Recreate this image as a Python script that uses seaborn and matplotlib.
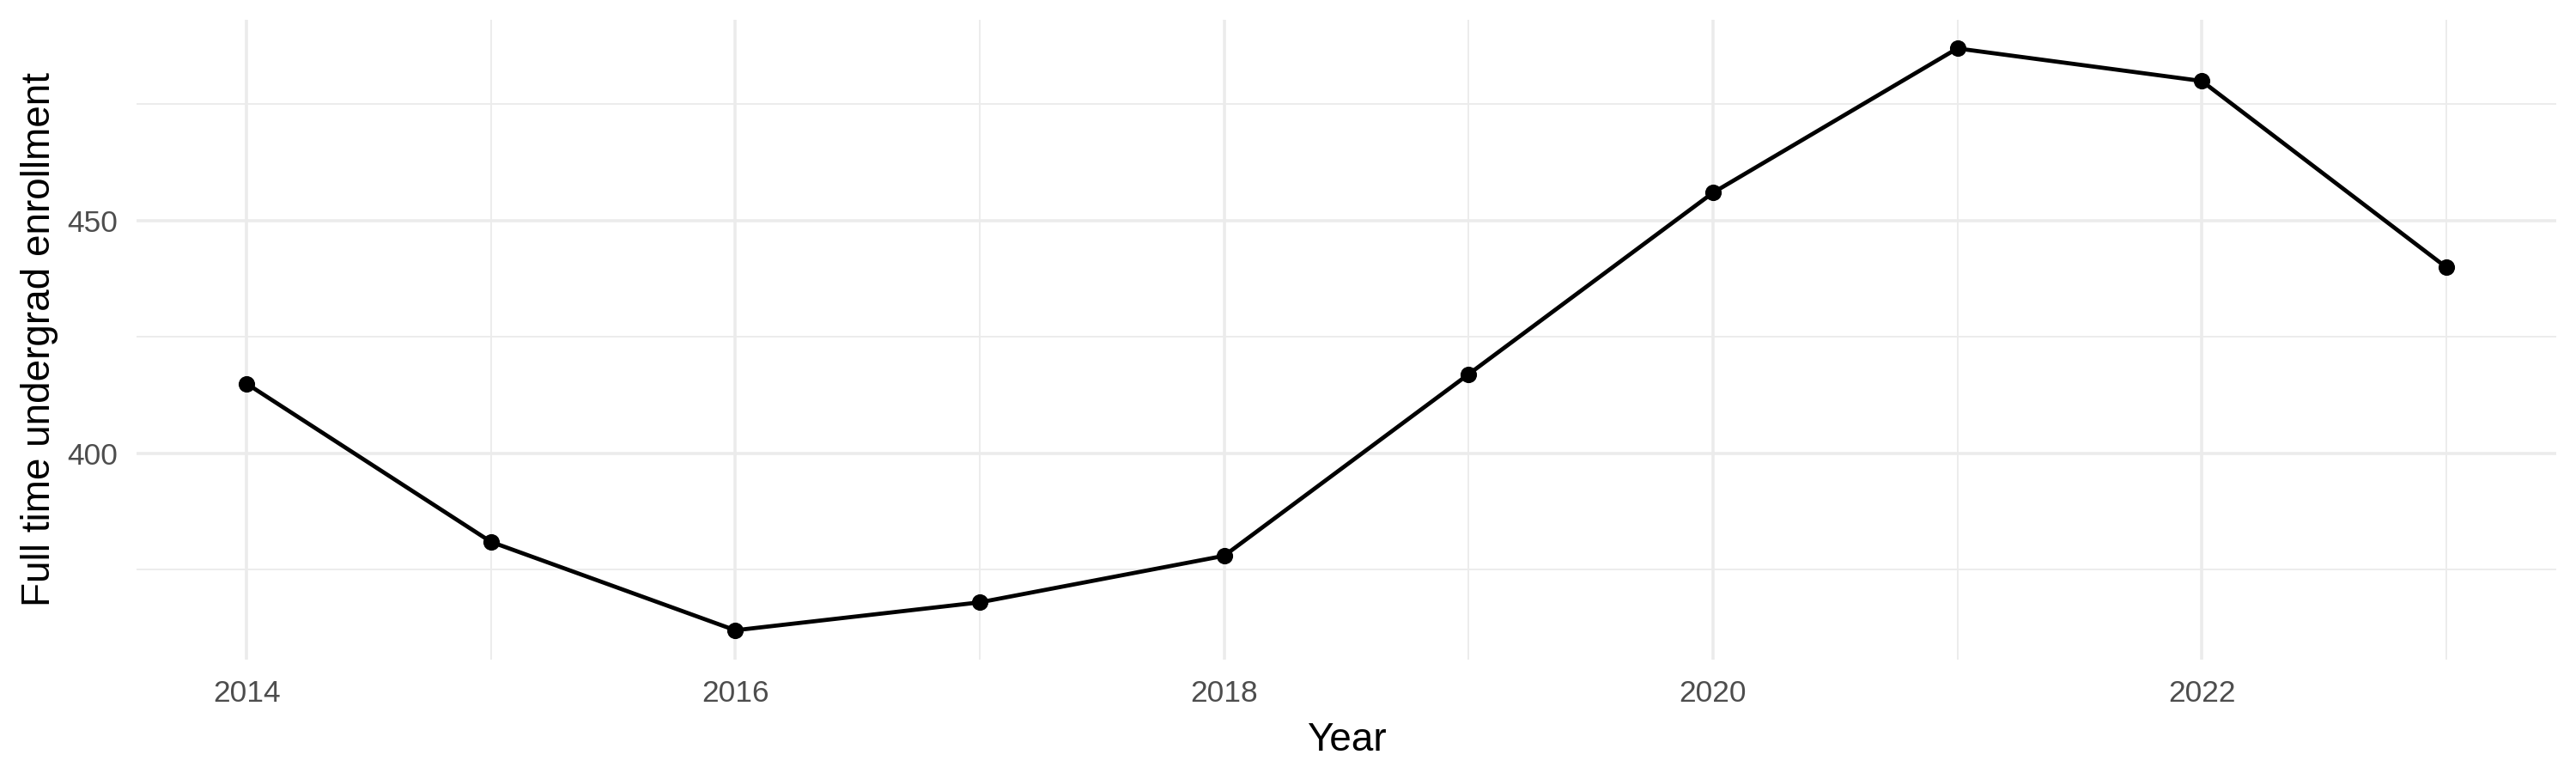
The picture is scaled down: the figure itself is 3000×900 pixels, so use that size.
import matplotlib
matplotlib.use('Agg')
import matplotlib.pyplot as plt
from matplotlib.ticker import MultipleLocator
import pandas as pd
import seaborn as sns

# enrollment values
years = [2014, 2015, 2016, 2017, 2018, 2019, 2020, 2021, 2022, 2023]
enrollment = [415, 381, 362, 368, 378, 417, 456, 487, 480, 440]

df = pd.DataFrame({'Year': years, 'Enrollment': enrollment})

sns.set_theme(style='whitegrid')
plt.rcParams['font.family'] = ['Liberation Sans', 'DejaVu Sans']

fig = plt.figure(figsize=(10, 3), dpi=300)
ax = fig.add_axes([0.053, 0.147, 0.9393, 0.828])

sns.lineplot(data=df, x='Year', y='Enrollment', ax=ax, color='black',
             linewidth=1.15, marker='o', markersize=4.6,
             markeredgewidth=0, zorder=3)

# ggplot-like expansion of 5% on each side
yr = max(enrollment) - min(enrollment)
ax.set_ylim(min(enrollment) - 0.05 * yr, max(enrollment) + 0.05 * yr)
xr = max(years) - min(years)
ax.set_xlim(min(years) - 0.05 * xr, max(years) + 0.05 * xr)

ax.xaxis.set_major_locator(MultipleLocator(2))
ax.xaxis.set_minor_locator(MultipleLocator(1))
ax.yaxis.set_major_locator(MultipleLocator(50))
ax.yaxis.set_minor_locator(MultipleLocator(25))

ax.grid(which='major', color='#EBEBEB', linewidth=0.85)
ax.grid(which='minor', color='#EBEBEB', linewidth=0.45)
ax.set_axisbelow(True)
for s in ax.spines.values():
    s.set_visible(False)

ax.tick_params(which='both', length=0, labelsize=8.5, labelcolor='#4D4D4D')
ax.tick_params(axis='x', pad=5.5)
ax.tick_params(axis='y', pad=5.3)
ax.set_xlabel('Year', fontsize=11, color='black', labelpad=4)
ax.set_ylabel('Full time undergrad enrollment', fontsize=11, color='black', labelpad=2.5)

fig.savefig('out.png', dpi=300, facecolor='white')
